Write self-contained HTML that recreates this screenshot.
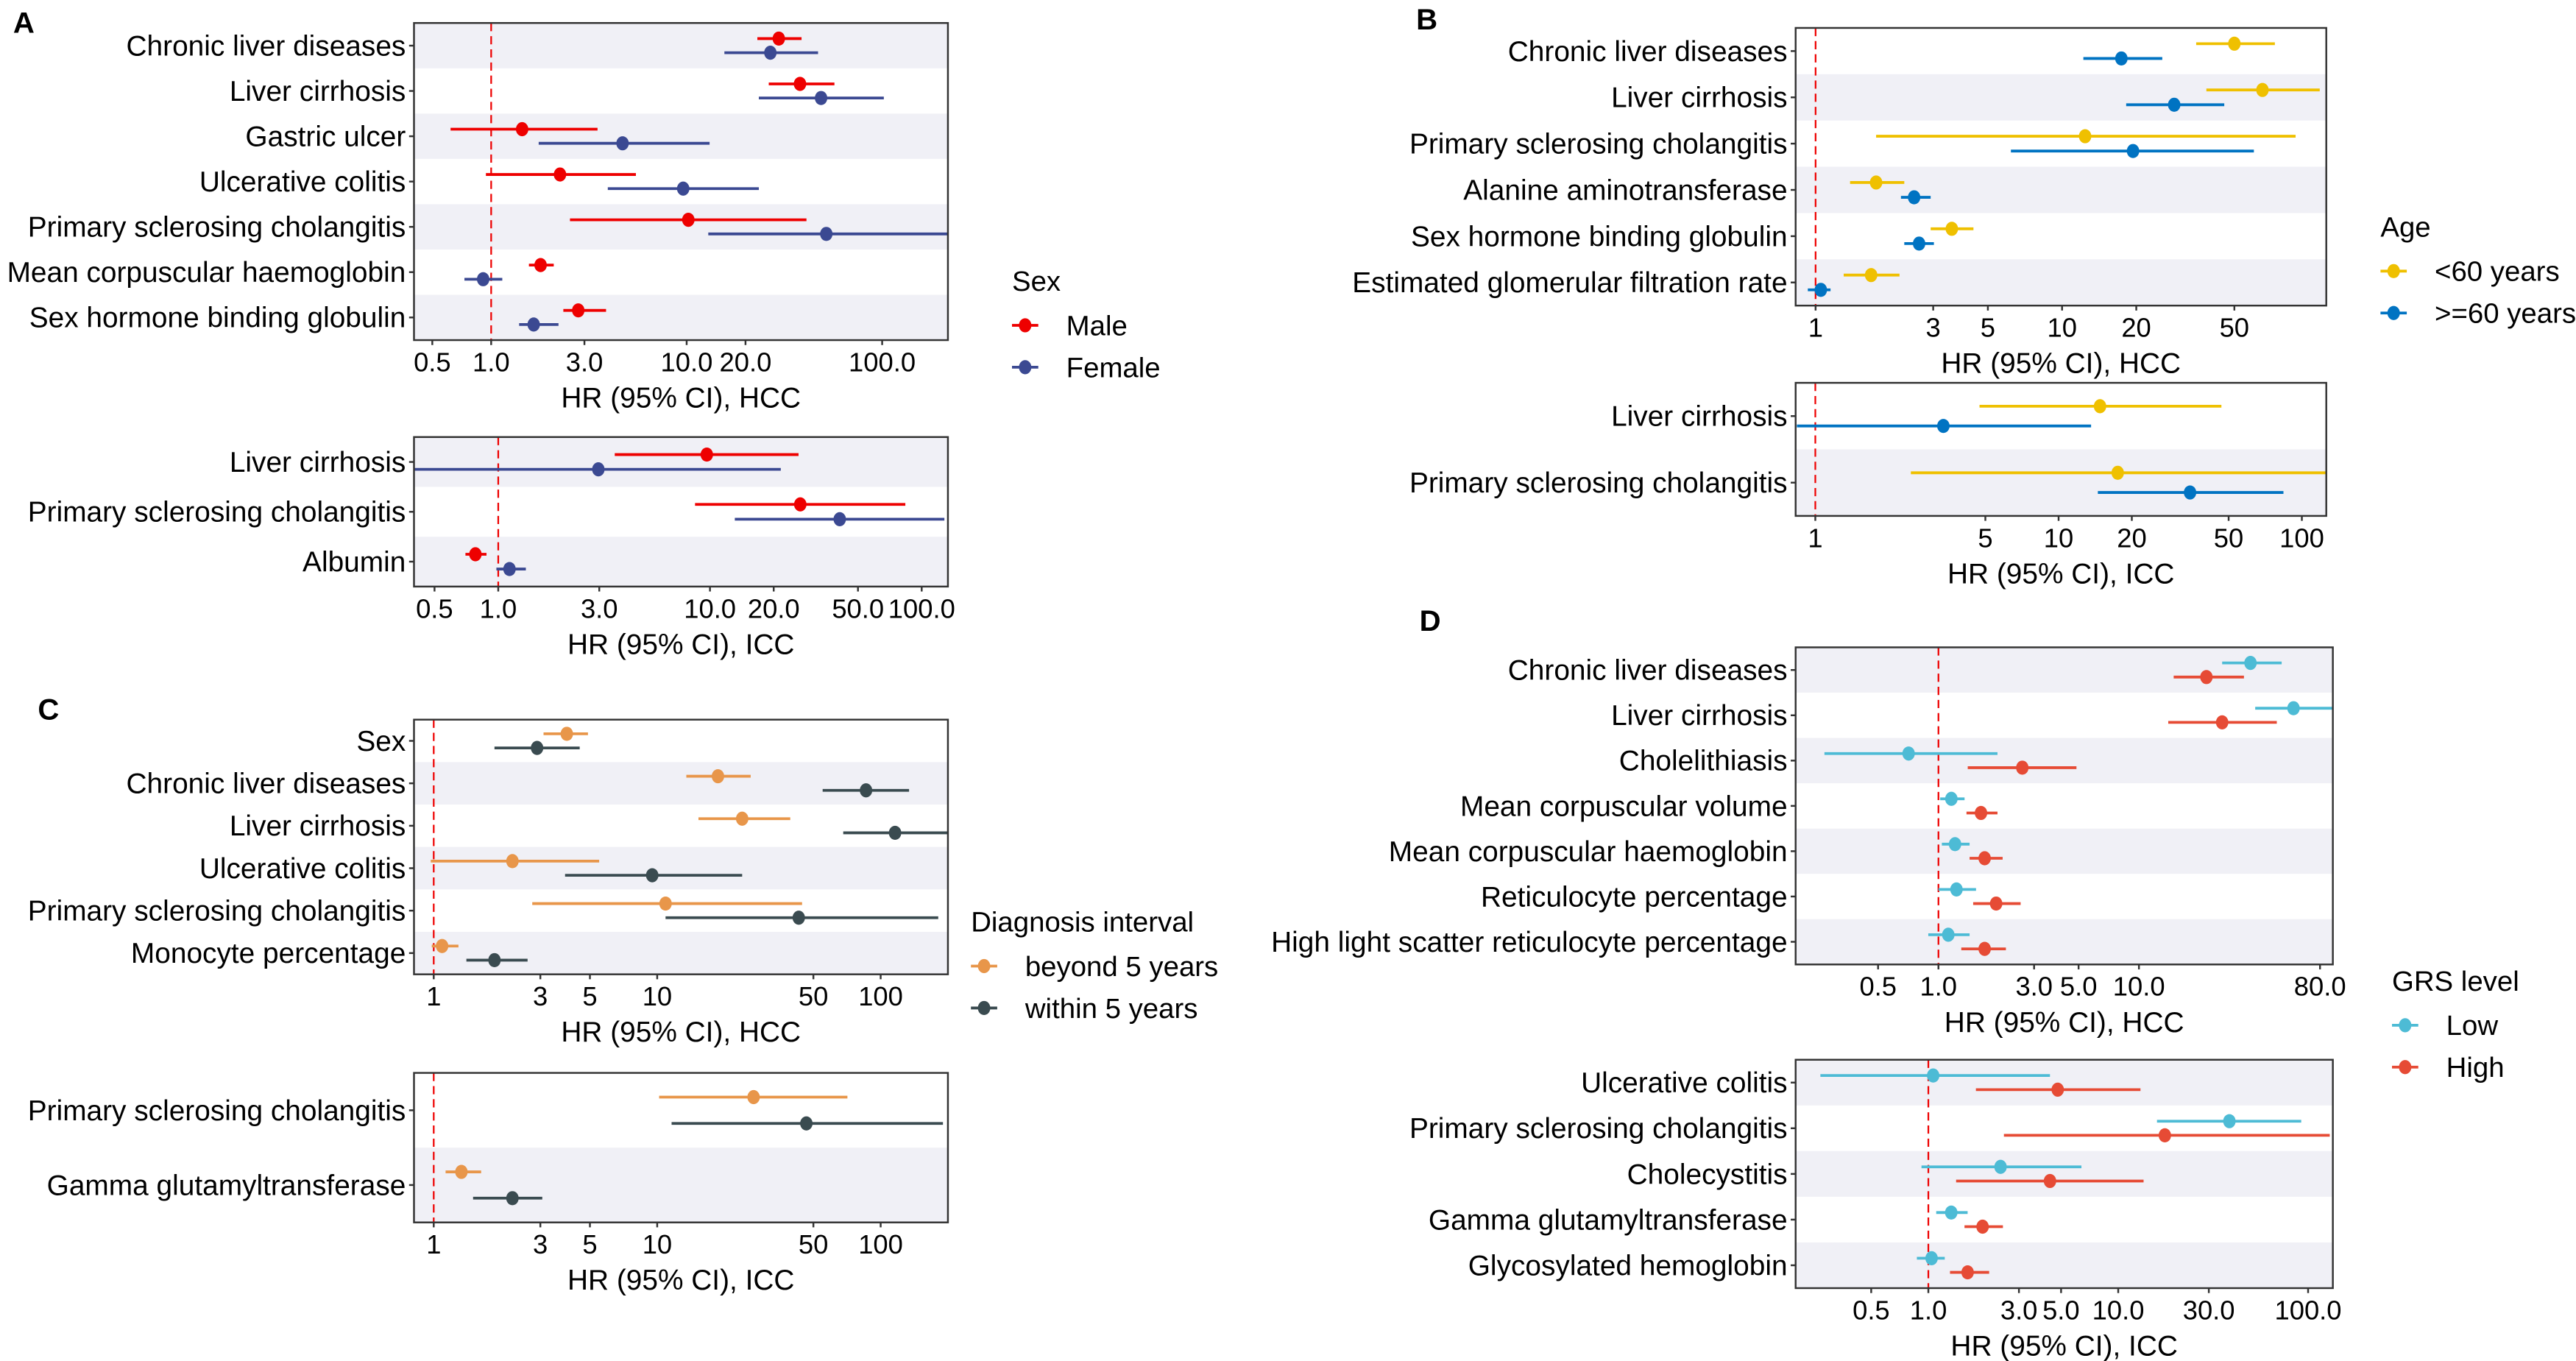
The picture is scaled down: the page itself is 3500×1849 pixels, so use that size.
<!DOCTYPE html>
<html><head><meta charset="utf-8"><style>
html,body{margin:0;padding:0;background:#fff}
svg{display:block}
text{font-family:"Liberation Sans",Arial,sans-serif;fill:#000}
</style></head><body>
<svg id="fig" width="3500" height="1849" viewBox="0 0 3500 1849" xmlns="http://www.w3.org/2000/svg">
<g id="root" transform="scale(2.23214)"></g>
</svg>
<script>
// ---------- Panel A (HCC) ----------
const aHccNames = ["Chronic liver diseases","Liver cirrhosis","Gastric ulcer","Ulcerative colitis","Primary sclerosing cholangitis","Mean corpuscular haemoglobin","Sex hormone binding globulin"];
const aHccMale = [29.6,38,1.44,2.25,10.2,1.79,2.79];
const aHccMaleLo = [23,26.3,0.62,0.94,2.53,1.56,2.34];
const aHccMaleHi = [38.7,57,3.5,5.5,41,2.09,3.87];
const aHccFemale = [26.8,48.7,4.7,9.6,51.8,0.91,1.65];
const aHccFemaleLo = [15.6,23.4,1.75,3.95,12.9,0.73,1.39];
const aHccFemaleHi = [47,102,13.1,23.4,250,1.14,2.21];
const aHccTicks = [0.5,1,3,10,20,100];
const aHccTickLabels = ["0.5","1.0","3.0","10.0","20.0","100.0"];
// ---------- Panel A (ICC) ----------
const aIccNames = ["Liver cirrhosis","Primary sclerosing cholangitis","Albumin"];
const aIccMale = [9.66,26.7,0.78];
const aIccMaleLo = [3.55,8.5,0.70];
const aIccMaleHi = [26.2,83.7,0.88];
const aIccFemale = [2.97,41,1.13];
const aIccFemaleLo = [0.40,13.1,0.98];
const aIccFemaleHi = [21.6,128,1.35];
const aIccTicks = [0.5,1,3,10,20,50,100];
const aIccTickLabels = ["0.5","1.0","3.0","10.0","20.0","50.0","100.0"];
// ---------- Panel B (HCC) ----------
const bHccNames = ["Chronic liver diseases","Liver cirrhosis","Primary sclerosing cholangitis","Alanine aminotransferase","Sex hormone binding globulin","Estimated glomerular filtration rate"];
const bHccYoung = [50,65,12.4,1.76,3.57,1.68];
const bHccYoungLo = [35,38.5,1.76,1.38,2.93,1.30];
const bHccYoungHi = [73,111,88.6,2.29,4.37,2.19];
const bHccOld = [17.4,28.5,19.4,2.51,2.63,1.05];
const bHccOldLo = [12.2,18.2,6.2,2.22,2.29,0.93];
const bHccOldHi = [25.5,45.5,60,2.93,3.02,1.15];
const bHccTicks = [1,3,5,10,20,50];
const bHccTickLabels = ["1","3","5","10","20","50"];
// ---------- Panel B (ICC) ----------
const bIccNames = ["Liver cirrhosis","Primary sclerosing cholangitis"];
const bIccYoung = [14.8,17.5];
const bIccYoungLo = [4.73,2.47];
const bIccYoungHi = [46.7,130];
const bIccOld = [3.36,34.7];
const bIccOldLo = [0.84,14.5];
const bIccOldHi = [13.6,84];
const bIccTicks = [1,5,10,20,50,100];
const bIccTickLabels = ["1","5","10","20","50","100"];
// ---------- Panel C (HCC) ----------
const cHccNames = ["Sex","Chronic liver diseases","Liver cirrhosis","Ulcerative colitis","Primary sclerosing cholangitis","Monocyte percentage"];
const cHccBeyond = [3.94,18.7,24,2.25,10.9,1.09];
const cHccBeyondLo = [3.1,13.5,15.3,0.97,2.76,0.98];
const cHccBeyondHi = [4.9,26.2,39.4,5.5,44.5,1.29];
const cHccWithin = [2.9,86,116,9.5,43,1.87];
const cHccWithinLo = [1.87,55,68,3.87,10.9,1.40];
const cHccWithinHi = [4.5,134,210,24,181,2.63];
const cTicks = [1,3,5,10,50,100];
const cTickLabels = ["1","3","5","10","50","100"];
// ---------- Panel C (ICC) ----------
const cIccNames = ["Primary sclerosing cholangitis","Gamma glutamyltransferase"];
const cIccBeyond = [27,1.33];
const cIccBeyondLo = [10.2,1.13];
const cIccBeyondHi = [71,1.63];
const cIccWithin = [46.5,2.25];
const cIccWithinLo = [11.6,1.5];
const cIccWithinHi = [190,3.06];
// ---------- Panel D (HCC) ----------
const dHccNames = ["Chronic liver diseases","Liver cirrhosis","Cholelithiasis","Mean corpuscular volume","Mean corpuscular haemoglobin","Reticulocyte percentage","High light scatter reticulocyte percentage"];
const dHccLow = [36,59,0.71,1.16,1.21,1.23,1.12];
const dHccLowLo = [26,38,0.27,1.02,1.04,1.0,0.89];
const dHccLowHi = [51.5,95,1.97,1.35,1.43,1.54,1.43];
const dHccHigh = [21.7,26,2.62,1.63,1.70,1.94,1.70];
const dHccHighLo = [14.9,14,1.4,1.38,1.43,1.49,1.30];
const dHccHighHi = [33.4,48.7,4.88,1.97,2.09,2.57,2.17];
const dHccTicks = [0.5,1,3,5,10,80];
const dHccTickLabels = ["0.5","1.0","3.0","5.0","10.0","80.0"];
// ---------- Panel D (ICC) ----------
const dIccNames = ["Ulcerative colitis","Primary sclerosing cholangitis","Cholecystitis","Gamma glutamyltransferase","Glycosylated hemoglobin"];
const dIccLow = [1.06,38.5,2.4,1.32,1.04];
const dIccLowLo = [0.27,16,0.92,1.10,0.87];
const dIccLowHi = [4.37,92,6.4,1.61,1.22];
const dIccHigh = [4.8,17.6,4.37,1.93,1.61];
const dIccHighLo = [1.78,2.5,1.40,1.55,1.30];
const dIccHighHi = [13.1,130,13.6,2.47,2.09];
const dIccTicks = [0.5,1,3,5,10,30,100];
const dIccTickLabels = ["0.5","1.0","3.0","5.0","10.0","30.0","100.0"];

const NS = "http://www.w3.org/2000/svg";
const root = document.getElementById("root");
function mk(tag, attrs, parent){ const e=document.createElementNS(NS,tag); for(const k in attrs) e.setAttribute(k,attrs[k]); (parent||root).appendChild(e); return e; }

function forest(id, box, dom, names, s1, s2, ticks, tickLabels, title, off){
  const g = mk("g",{});
  
  
  const [x0,x1,y0,y1] = box;
  const lmin = Math.log10(dom[0]), lmax = Math.log10(dom[1]);
  const sx = v => x0 + (Math.log10(v)-lmin)/(lmax-lmin)*(x1-x0);
  const n = names.length, rh = (y1-y0)/n;
  const clip = v => Math.max(x0, Math.min(x1, sx(v)));
  for(let i=0;i<n;i++){
    if((n-1-i)%2===0){
      const r = mk("rect",{x:x0,y:y0+i*rh,width:x1-x0,height:rh,fill:"#F0F0F6"},g);
      
      
    }
  }
  const ref = mk("line",{x1:sx(1),x2:sx(1),y1:y0,y2:y1,stroke:"#EE0000","stroke-width":1,"stroke-dasharray":"5,3"},g);
  
  
  [s1,s2].forEach((s,k)=>{
    for(let i=0;i<n;i++){
      const cy = y0+(i+0.5)*rh + (k===0?-off:off);
      const ln = mk("line",{x1:clip(s.lo[i]),x2:clip(s.hi[i]),y1:cy,y2:cy,stroke:s.color,"stroke-width":1.7},g);
      
      
      const c = mk("ellipse",{cx:sx(s.v[i]),cy:cy,rx:3.8,ry:4.3,fill:s.color},g);
      
      
    }
  });
  const fr = mk("rect",{x:x0,y:y0,width:x1-x0,height:y1-y0,fill:"none",stroke:"#333","stroke-width":1.1},g);
  
  
  for(let i=0;i<n;i++){
    const cy = y0+(i+0.5)*rh;
    mk("line",{x1:x0-3,x2:x0,y1:cy,y2:cy,stroke:"#333","stroke-width":1.1},g);
    const t = mk("text",{x:x0-5,y:cy+6,"text-anchor":"end","font-size":17.4},g);
    t.textContent = names[i];
    
    
  }
  ticks.forEach((v,j)=>{
    mk("line",{x1:sx(v),x2:sx(v),y1:y1,y2:y1+3,stroke:"#333","stroke-width":1.1},g);
    const t = mk("text",{x:sx(v),y:y1+19,"text-anchor":"middle","font-size":16.3},g);
    t.textContent = tickLabels[j];
    
    
  });
  const tt = mk("text",{x:(x0+x1)/2,y:y1+41,"text-anchor":"middle","font-size":17.4},g);
  tt.textContent = title;
  
  
}
function S(key,color,v,lo,hi){return {key,color,v,lo,hi};}
function legend(id, x, y, title, labels, colors){
  const g = mk("g",{});
  
  
  const t = mk("text",{x:x,y:y,"font-size":17.2},g); t.textContent = title;
  labels.forEach((lb,i)=>{
    const cy = y+26+i*25.5;
    mk("line",{x1:x,x2:x+16,y1:cy-5,y2:cy-5,stroke:colors[i],"stroke-width":1.7},g);
    mk("ellipse",{cx:x+8,cy:cy-5,rx:3.8,ry:4.3,fill:colors[i]},g);
    const e = mk("text",{x:x+33,y:cy+1,"font-size":17.2},g);
    e.textContent = lb;
    
    
  });
}
function label(txt,x,y){const t=mk("text",{x:x,y:y,"font-size":18,"font-weight":"bold"}); t.textContent=txt;  }

const RED="#EE0000", NAVY="#3B4992", YEL="#EFC000", BLU="#0073C2", ORG="#E8964A", DRK="#3A4B50", LOW="#4DBBD5", HIGH="#E64B35";

forest("panel-a-hcc",[252,577,14,207],[0.403,217],aHccNames,
  S("male",RED,aHccMale,aHccMaleLo,aHccMaleHi),S("female",NAVY,aHccFemale,aHccFemaleLo,aHccFemaleHi),
  aHccTicks,aHccTickLabels,"HR (95% CI), HCC",4.3);
forest("panel-a-icc",[252,577,266,357],[0.40,133],aIccNames,
  S("male",RED,aIccMale,aIccMaleLo,aIccMaleHi),S("female",NAVY,aIccFemale,aIccFemaleLo,aIccFemaleHi),
  aIccTicks,aIccTickLabels,"HR (95% CI), ICC",4.5);
legend("legend-sex",616,177,"Sex",["Male","Female"],[RED,NAVY]);

forest("panel-b-hcc",[1093,1416,17,186],[0.83,118],bHccNames,
  S("under-60",YEL,bHccYoung,bHccYoungLo,bHccYoungHi),S("over-60",BLU,bHccOld,bHccOldLo,bHccOldHi),
  bHccTicks,bHccTickLabels,"HR (95% CI), HCC",4.5);
forest("panel-b-icc",[1093,1416,233,314],[0.83,126],bIccNames,
  S("under-60",YEL,bIccYoung,bIccYoungLo,bIccYoungHi),S("over-60",BLU,bIccOld,bIccOldLo,bIccOldHi),
  bIccTicks,bIccTickLabels,"HR (95% CI), ICC",6);
legend("legend-age",1449,144,"Age",["<60 years",">=60 years"],[YEL,BLU]);

forest("panel-c-hcc",[252,577,438,593],[0.816,200],cHccNames,
  S("beyond-5y",ORG,cHccBeyond,cHccBeyondLo,cHccBeyondHi),S("within-5y",DRK,cHccWithin,cHccWithinLo,cHccWithinHi),
  cTicks,cTickLabels,"HR (95% CI), HCC",4.3);
forest("panel-c-icc",[252,577,653,744],[0.816,200],cIccNames,
  S("beyond-5y",ORG,cIccBeyond,cIccBeyondLo,cIccBeyondHi),S("within-5y",DRK,cIccWithin,cIccWithinLo,cIccWithinHi),
  cTicks,cTickLabels,"HR (95% CI), ICC",8);
legend("legend-diagnosis-interval",591,567,"Diagnosis interval",["beyond 5 years","within 5 years"],[ORG,DRK]);

forest("panel-d-hcc",[1093,1420,394,587],[0.194,92.7],dHccNames,
  S("low-grs",LOW,dHccLow,dHccLowLo,dHccLowHi),S("high-grs",HIGH,dHccHigh,dHccHighLo,dHccHighHi),
  dHccTicks,dHccTickLabels,"HR (95% CI), HCC",4.3);
forest("panel-d-icc",[1093,1420,645,784],[0.2,135],dIccNames,
  S("low-grs",LOW,dIccLow,dIccLowLo,dIccLowHi),S("high-grs",HIGH,dIccHigh,dIccHighLo,dIccHighHi),
  dIccTicks,dIccTickLabels,"HR (95% CI), ICC",4.3);
legend("legend-grs-level",1456,603,"GRS level",["Low","High"],[LOW,HIGH]);

label("A",8,20); label("B",862,18); label("C",23,438); label("D",864,384);
</script>
</body></html>
